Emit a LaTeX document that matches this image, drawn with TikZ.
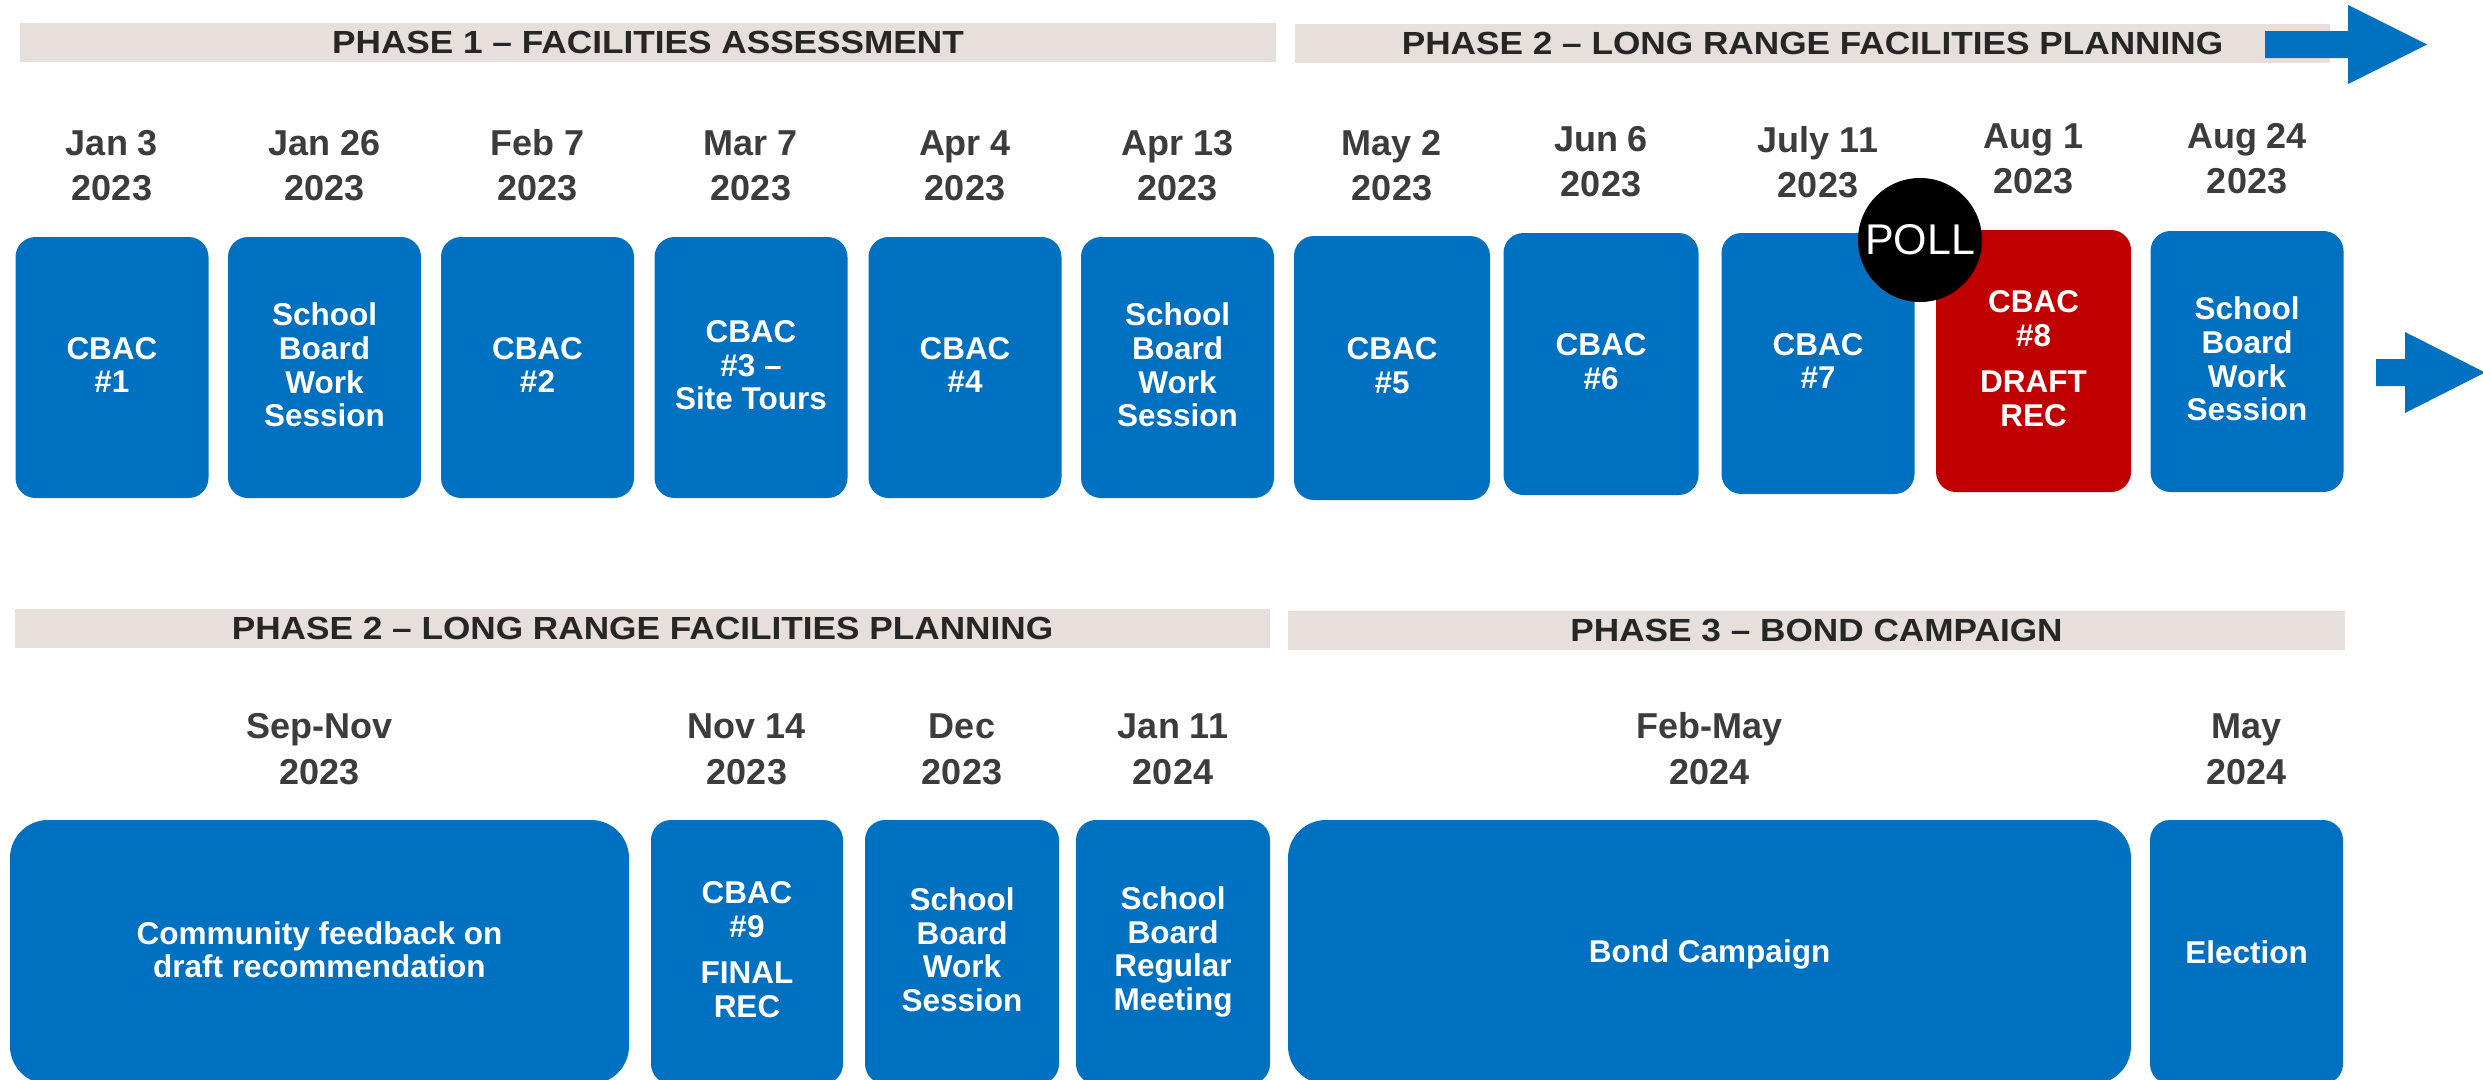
\documentclass[tikz,border=0pt]{standalone}
\usepackage{fontspec}
\setmainfont{Liberation Sans}
\newfontfamily\hdrfont{Liberation Sans}[FakeStretch=1.1]
\newcommand\lnstrut{\rule[-5pt]{0pt}{33pt}}
\definecolor{boxblue}{HTML}{0070C0}
\definecolor{boxred}{HTML}{C00000}
\definecolor{barclr}{HTML}{E6DFDC}
\definecolor{hdrtxt}{HTML}{262626}
\definecolor{datetxt}{HTML}{3C3C3C}
\begin{document}
\begin{tikzpicture}[x=1pt,y=-1pt,
  evbox/.style={fill=boxblue, draw=none, rounded corners=20pt, inner sep=0pt, text=white,
    font=\fontsize{31.5}{33.7}\selectfont\bfseries, align=center, minimum width=193pt, minimum height=261pt,
    execute at begin node=\lnstrut, execute at end node=\lnstrut},
  bigbox/.style={evbox, rounded corners=38pt},
  hdrbar/.style={fill=barclr, draw=none, inner sep=0pt, minimum height=39pt, text=hdrtxt,
    font=\hdrfont\fontsize{32}{32}\selectfont\bfseries},
  datetext/.style={font=\fontsize{36}{45}\selectfont\bfseries, text=datetxt, anchor=base, inner sep=0pt},
  pollnode/.style={circle, fill=black, minimum size=124pt, inner sep=0pt, text=white,
    font=\fontsize{43}{43}\selectfont},
  arrowfill/.style={fill=boxblue, draw=none}
]
\useasboundingbox (0,0) rectangle (2483,1079);
\clip (0,0) rectangle (2483,1079);

% ---------- header bars ----------
\node[hdrbar, minimum width=1256pt] (p1) at (648,42.5) {PHASE 1 – FACILITIES ASSESSMENT};
\node[hdrbar, minimum width=1035pt] (p2a) at (1812.5,43.5) {PHASE 2 – LONG RANGE FACILITIES PLANNING};
\node[hdrbar, minimum width=1255pt] (p2b) at (642.5,628.5) {PHASE 2 – LONG RANGE FACILITIES PLANNING};
\node[hdrbar, minimum width=1057pt] (p3) at (1816.5,630.5) {PHASE 3 – BOND CAMPAIGN};

% ---------- arrows ----------
\fill[arrowfill] (2265,31) -- (2348,31) -- (2348,5) -- (2427,44.5) -- (2348,84) -- (2348,58) -- (2265,58) -- cycle;
\fill[arrowfill] (2376,359) -- (2405,359) -- (2405,332) -- (2485,372.5) -- (2405,413) -- (2405,386) -- (2376,386) -- cycle;

% ---------- top row dates ----------
\node[datetext] (d1a) at (112,155) {Jan 3};     \node[datetext] (d1b) at (112,200) {2023};
\node[datetext] (d2a) at (324.5,155) {Jan 26};  \node[datetext] (d2b) at (324.5,200) {2023};
\node[datetext] (d3a) at (537.5,155) {Feb 7};   \node[datetext] (d3b) at (537.5,200) {2023};
\node[datetext] (d4a) at (751,155) {Mar 7};     \node[datetext] (d4b) at (751,200) {2023};
\node[datetext] (d5a) at (965,155) {Apr 4};     \node[datetext] (d5b) at (965,200) {2023};
\node[datetext] (d6a) at (1177.5,155) {Apr 13}; \node[datetext] (d6b) at (1177.5,200) {2023};
\node[datetext] (d7a) at (1392,155) {May 2};    \node[datetext] (d7b) at (1392,200) {2023};
\node[datetext] (d8a) at (1601,151) {Jun 6};    \node[datetext] (d8b) at (1601,196) {2023};
\node[datetext] (d9a) at (1818,152) {July 11};  \node[datetext] (d9b) at (1818,197) {2023};
\node[datetext] (d10a) at (2033.5,148) {Aug 1}; \node[datetext] (d10b) at (2033.5,193) {2023};
\node[datetext] (d11a) at (2247,148) {Aug 24};  \node[datetext] (d11b) at (2247,193) {2023};

% ---------- top row boxes ----------
\node[evbox] (b1) at (112,367.5) {CBAC\\\#1};
\node[evbox] (b2) at (324.5,367.5) {School\\Board\\Work\\Session};
\node[evbox] (b3) at (537.5,367.5) {CBAC\\\#2};
\node[evbox] (b4) at (751,367.5) {CBAC\\\#3 –\\Site Tours};
\node[evbox] (b5) at (965,367.5) {CBAC\\\#4};
\node[evbox] (b6) at (1177.5,367.5) {School\\Board\\Work\\Session};
\node[evbox, minimum width=196pt, minimum height=264pt] (b7) at (1392,368) {CBAC\\\#5};
\node[evbox, minimum width=195pt, minimum height=262pt] (b8) at (1601,364) {CBAC\\\#6};
\node[evbox] (b9) at (1818,363.5) {CBAC\\\#7};
\node[evbox, fill=boxred, minimum width=195pt, minimum height=262pt] (b10) at (2033.5,361) {CBAC\\\#8\\[12pt]DRAFT\\REC};
\node[evbox] (b11) at (2247,361.5) {School\\Board\\Work\\Session};

\node[pollnode] (poll) at (1920,240) {POLL};

% ---------- bottom row dates ----------
\node[datetext] (e1a) at (319.5,738) {Sep-Nov};  \node[datetext] (e1b) at (319.5,784) {2023};
\node[datetext] (e2a) at (747,738) {Nov 14};     \node[datetext] (e2b) at (747,784) {2023};
\node[datetext] (e3a) at (962,738) {Dec};        \node[datetext] (e3b) at (962,784) {2023};
\node[datetext] (e4a) at (1173,738) {Jan 11};    \node[datetext] (e4b) at (1173,784) {2024};
\node[datetext] (e5a) at (1709.5,738) {Feb-May}; \node[datetext] (e5b) at (1709.5,784) {2024};
\node[datetext] (e6a) at (2246.5,738) {May};     \node[datetext] (e6b) at (2246.5,784) {2024};

% ---------- bottom row boxes ----------
\node[bigbox, minimum width=619pt, minimum height=264pt] (c1) at (319.5,952) {Community feedback on\\draft recommendation};
\node[evbox, minimum width=192pt, minimum height=264pt] (c2) at (747,952) {CBAC\\\#9\\[12pt]FINAL\\REC};
\node[evbox, minimum width=194pt, minimum height=264pt] (c3) at (962,952) {School\\Board\\Work\\Session};
\node[evbox, minimum width=194pt, minimum height=264pt] (c4) at (1173,952) {School\\Board\\Regular\\Meeting};
\node[bigbox, minimum width=843pt, minimum height=264pt] (c5) at (1709.5,952) {Bond Campaign};
\node[evbox, minimum width=193pt, minimum height=264pt] (c6) at (2246.5,952) {Election};
\end{tikzpicture}
\end{document}
